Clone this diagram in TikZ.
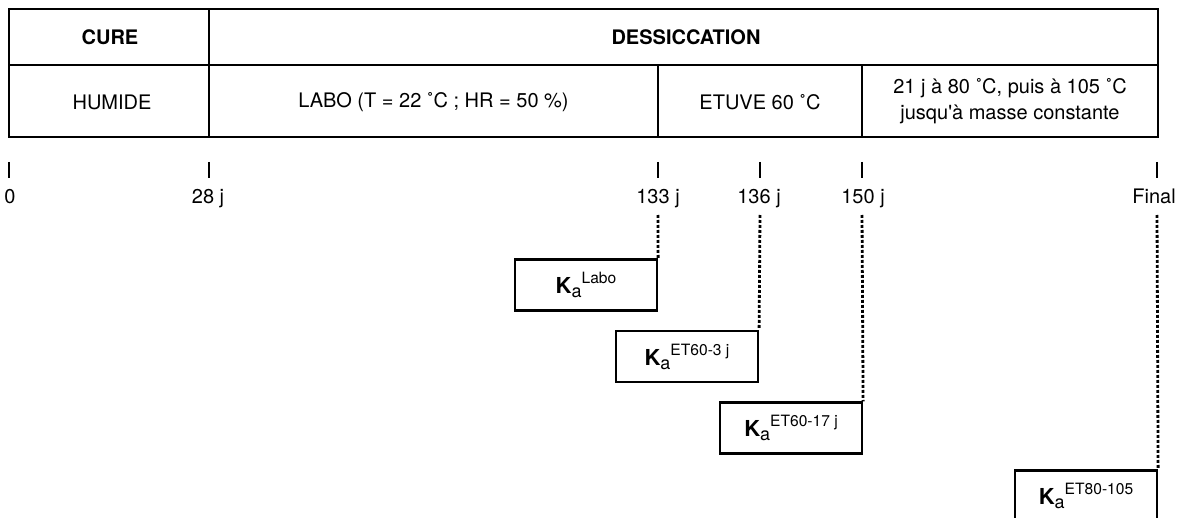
\documentclass[tikz,border=0pt]{standalone}
\usepackage{fontspec}
\setmainfont{TeX Gyre Heros}
\newcommand\kasym[1]{{\fontsize{11}{11}\selectfont\textbf{K}}\raisebox{-2pt}{\fontsize{9}{9}\selectfont a}\raisebox{5pt}{\fontsize{7.8}{7.8}\selectfont #1}}
\begin{document}
\begin{tikzpicture}[x=0.5pt,y=-0.5pt, line width=1pt,
  font=\fontsize{10}{12}\selectfont,
  cell/.style={inner sep=0pt, align=center},
  kbox/.style={draw, line width=1.1pt, minimum width=71pt, minimum height=25.5pt, inner sep=0pt},
  tickmark/.style={line width=1pt},
  dotline/.style={line width=1.4pt, dash pattern=on 1.4pt off 1.1pt},
  ticklabel/.style={anchor=base, inner sep=0pt}]
\clip (0,0) rectangle (1181,518);
\fill[white] (0,0) rectangle (1181,518);
% table
\draw[line width=1.1pt] (9,9) rectangle (1158,137);
\draw[line width=1.1pt] (9,65) -- (1158,65);
\draw[line width=1.1pt] (209,9) -- (209,137);
\draw[line width=1.1pt] (658,65) -- (658,137);
\draw[line width=1.1pt] (862,65) -- (862,137);
\node[cell, font=\fontsize{10}{12}\selectfont\bfseries] (cure) at (110,37) {CURE};
\node[cell, font=\fontsize{10}{12}\selectfont\bfseries] (dess) at (686,37) {DESSICCATION};
\node[cell] (humide) at (112,102) {HUMIDE};
\node[cell] (labo) at (433.5,102) {LABO (T = 22 ˚C ; HR = 50 \%)};
\node[cell] (etuve) at (760,102) {ETUVE 60 ˚C};
\node[cell, font=\fontsize{10}{13}\selectfont] (final) at (1010,101) {21 j à 80 ˚C, puis à 105 ˚C\\jusqu\textquotesingle à masse constante};
% ticks
\foreach \n/\x in {t0/9, t28/209, t133/658, t136/760, t150/862, tf/1157}{
  \coordinate (\n top) at (\x,162);
  \coordinate (\n bot) at (\x,178);
  \coordinate (\n dot) at (\x,215);
  \draw[tickmark] (\n top) -- (\n bot);
}
\node[ticklabel] (l0) at (10,204) {0};
\node[ticklabel] (l28) at (208,204) {28 j};
\node[ticklabel] (l133) at (658,204) {133 j};
\node[ticklabel] (l136) at (759,204) {136 j};
\node[ticklabel] (l150) at (863,204) {150 j};
\node[ticklabel] (lf) at (1154,204) {Final};
% boxes
\node[kbox] (k1) at (586,285) {\kasym{Labo}};
\node[kbox] (k2) at (687,356.5) {\kasym{ET60-3 j}};
\node[kbox] (k3) at (791,428) {\kasym{ET60-17 j}};
\node[kbox] (k4) at (1086,496) {\kasym{ET80-105}};
% dotted connectors
\draw[dotline] (t133dot) -- (k1.north east);
\draw[dotline] (t136dot) -- (k2.north east);
\draw[dotline] (t150dot) -- (k3.north east);
\draw[dotline] (tfdot) -- (k4.north east);
\end{tikzpicture}
\end{document}
